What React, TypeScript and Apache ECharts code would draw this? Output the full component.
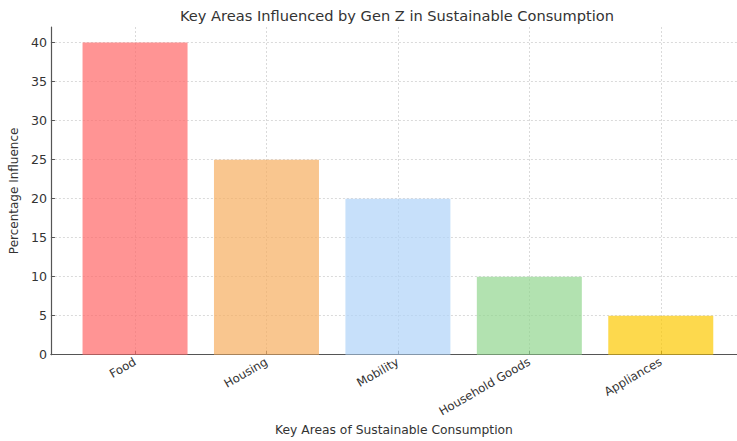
import React, { useEffect, useRef } from "react";
import * as echarts from "echarts";

const categories = ["Food", "Housing", "Mobility", "Household Goods", "Appliances"];
const values = [40, 25, 20, 10, 5];
const barColors = ["#ff6666", "#f7ae60", "#afd3f8", "#92d68e", "#fcc902"];
const yTicks = [0, 5, 10, 15, 20, 25, 30, 35, 40];

const FONT = "DejaVu Sans";

export default function App() {
  const ref = useRef<HTMLDivElement>(null);
  useEffect(() => {
    if (!ref.current) return;
    const chart = echarts.init(ref.current, undefined, { renderer: "svg" });
    chart.setOption({
      animation: false,
      textStyle: { fontFamily: FONT },
      title: {
        text: "Key Areas Influenced by Gen Z in Sustainable Consumption",
        left: 397,
        textAlign: "center",
        top: 8,
        padding: 0,
        textStyle: { fontFamily: FONT, fontSize: 14.6, fontWeight: "normal", color: "#333" },
      },
      grid: { left: 49, right: 0, top: 27, bottom: 81, containLabel: false },
      xAxis: {
        type: "value",
        min: -0.64,
        max: 4.58,
        minInterval: 1,
        maxInterval: 1,
        name: "Key Areas of Sustainable Consumption",
        nameLocation: "middle",
        nameGap: 67,
        nameTextStyle: { fontFamily: FONT, fontSize: 12.3, color: "#333" },
        axisLine: { show: true, onZero: false, lineStyle: { color: "#555", width: 1.2 } },
        axisTick: { show: true, inside: true, length: 4, lineStyle: { color: "#555" } },
        axisLabel: {
          rotate: 30,
          fontFamily: FONT,
          fontSize: 11.8,
          color: "#333",
          margin: 6,
          showMinLabel: false,
          showMaxLabel: false,
          formatter: (v: number) => (Number.isInteger(v) && categories[v] ? categories[v] : ""),
        },
        splitLine: {
          show: true,
          showMinLine: false,
          showMaxLine: false,
          lineStyle: { color: "#d0d0d0", type: [2, 2], width: 0.8 },
        },
      },
      yAxis: {
        type: "value",
        min: 0,
        max: 42,
        interval: 5,
        name: "Percentage Influence",
        nameLocation: "middle",
        nameGap: 23,
        nameTextStyle: { fontFamily: FONT, fontSize: 12, color: "#333" },
        axisLine: { show: true, onZero: false, lineStyle: { color: "#555", width: 1.2 } },
        axisTick: { show: true, inside: true, length: 4, lineStyle: { color: "#555" } },
        axisLabel: {
          fontFamily: FONT,
          fontSize: 12.6,
          color: "#333",
          margin: 4,
          showMaxLabel: false,
          formatter: (v: number) => (yTicks.includes(v) ? String(v) : ""),
        },
        splitLine: {
          show: true,
          showMinLine: false,
          showMaxLine: false,
          lineStyle: { color: "#d0d0d0", type: [2, 2], width: 0.8 },
        },
      },
      series: [
        {
          type: "bar",
          barWidth: 105,
          data: values.map((v, i) => ({
            value: [i, v],
            itemStyle: { color: barColors[i], opacity: 0.7 },
          })),
        },
      ],
    });
    return () => chart.dispose();
  }, []);
  return <div ref={ref} style={{ width: 737, height: 441, position: "absolute", left: 0, top: 0 }} />;
}
